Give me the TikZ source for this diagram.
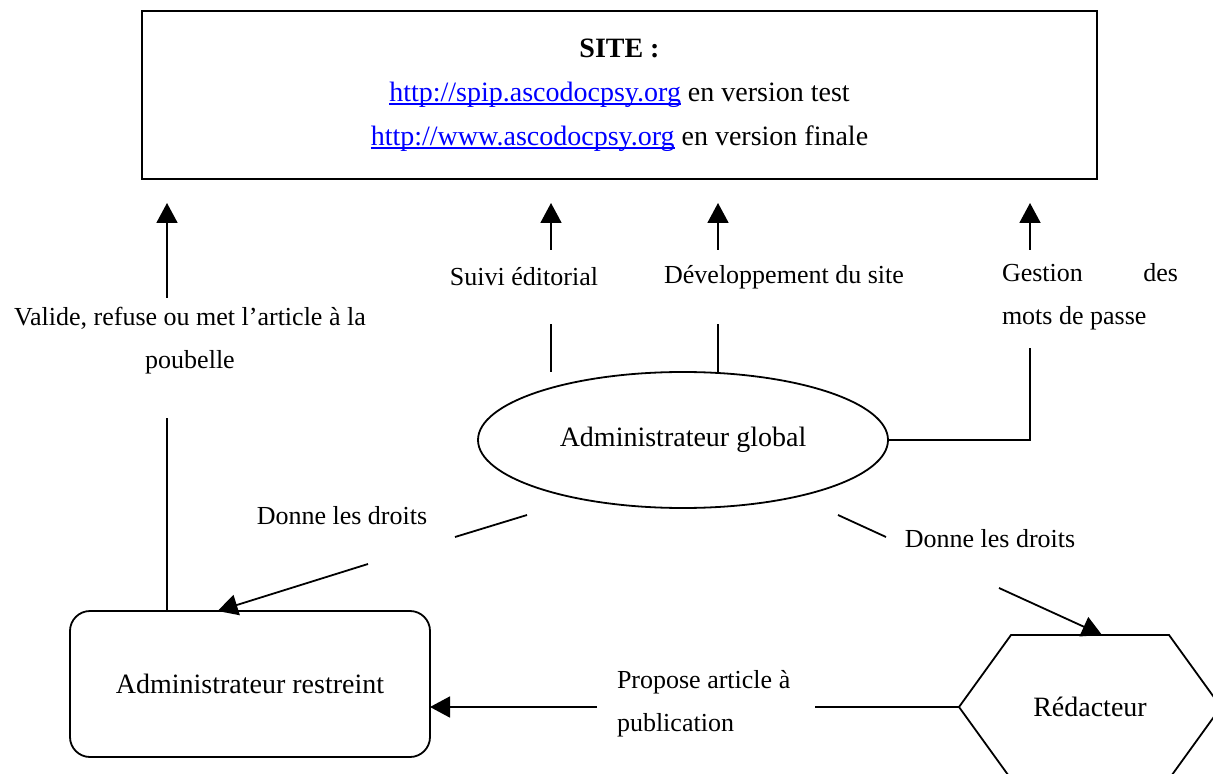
\documentclass[tikz,border=0pt]{standalone}
\usepackage{fontspec}
\setmainfont{Liberation Serif}
\usetikzlibrary{calc,shapes.geometric,arrows.meta}
\definecolor{CLink}{HTML}{0000FF}
\definecolor{CLine}{HTML}{000000}
% underlined web link, rule just under the baseline
\newcommand{\weblink}[1]{\textcolor{CLink}{\setbox0\hbox{#1}\rlap{\rule[-1.8pt]{\wd0}{0.7pt}}\box0}}

\begin{document}
\begin{tikzpicture}[x=0.5pt, y=-0.5pt,
    txt/.style={font=\fontsize{13}{21.5}\selectfont, inner sep=0pt, outer sep=0pt, align=center},
    big/.style={font=\fontsize{14}{22}\selectfont, inner sep=0pt, outer sep=0pt, align=center},
    link/.style={line width=0.9pt, CLine},
    arr/.style={link, -{Triangle[width=10.5pt,length=10pt]}},
    up/.style={arr, shorten >=12pt}]

  \useasboundingbox (0,0) rectangle (1213,774);

  % ============================================
  % SITE box
  % ============================================
  \node[big, draw, line width=1.4pt, minimum width=477.5pt, minimum height=84pt] (site) at (619.5,95)
    {\textbf{SITE :}\\
     \weblink{http://spip.ascodocpsy.org} en version test\\
     \weblink{http://www.ascodocpsy.org} en version finale};

  % ============================================
  % Roles
  % ============================================
  \node[big, draw, ellipse, line width=0.9pt, minimum width=205pt, minimum height=68pt] (glob) at (683,440) {Administrateur global};
  \node[big, draw, rounded corners=10pt, line width=0.9pt, minimum width=180pt, minimum height=73pt] (restr) at (250,684) {Administrateur restreint};

  % Redacteur (hexagon, cut by the page edge)
  \node[big, minimum width=79pt, minimum height=72pt] (redac) at (1090,707) {Rédacteur};
  \draw[link] (redac.north west) -- (redac.north east) -- ($(redac.east)+(52,0)$)
    -- (redac.south east) -- (redac.south west) -- ($(redac.west)+(-52,0)$) coordinate (redacW) -- cycle;

  % Labels
  \node[txt] (val) at (190,341) {Valide, refuse ou met l’article à la\\poubelle};
  \node[txt] (sui) at (524,277) {Suivi éditorial};
  \node[txt] (dev) at (784,277) {Développement du site};
  \node[txt, align=left, anchor=west] (pw) at (1002,297) {\makebox[88pt][l]{Gestion\hfill des}\\mots de passe};
  \node[txt] (dgl) at (342,516) {Donne les droits};
  \node[txt] (dgr) at (990,539) {Donne les droits};
  \node[txt, align=left, anchor=west] (prop) at (617,704) {Propose article à\\publication};

  % Free ends of the broken connectors
  \coordinate (valB) at (167,418);
  \coordinate (valT) at (167,298);
  \coordinate (suiB) at (551,324);
  \coordinate (suiT) at (551,250);
  \coordinate (devB) at (718,324);
  \coordinate (devT) at (718,250);
  \coordinate (pwB) at (1030,348);
  \coordinate (pwT) at (1030,250);
  \coordinate (dglA) at (527,515);
  \coordinate (dglB) at (455,537);
  \coordinate (dglC) at (368,564);
  \coordinate (dgrA) at (838,515);
  \coordinate (dgrB) at (886,537);
  \coordinate (dgrC) at (999,588);
  \coordinate (propR) at (815,707);
  \coordinate (propL) at (597,707);

  % Up to the site
  \draw[link] (restr.north -| valB) -- (valB);
  \draw[up] (valT) -- (valT |- site.south);
  \draw[link] (glob.north -| suiB) -- (suiB);
  \draw[up] (suiT) -- (suiT |- site.south);
  \draw[link] (glob.north -| devB) -- (devB);
  \draw[up] (devT) -- (devT |- site.south);
  \draw[link] (glob.east) -| (pwB);
  \draw[up] (pwT) -- (pwT |- site.south);

  % Rights given by the global admin
  \draw[link] (dglA) -- (dglB);
  \draw[arr] (dglC) -- ($(restr.north west)!0.41!(restr.north east)$);
  \draw[link] (dgrA) -- (dgrB);
  \draw[arr] (dgrC) -- ([xshift=6pt]redac.north);

  % Article proposed for publication
  \draw[link] (redacW) -- (propR);
  \draw[arr] (propL) -- (restr.east |- propL);

\end{tikzpicture}
\end{document}
